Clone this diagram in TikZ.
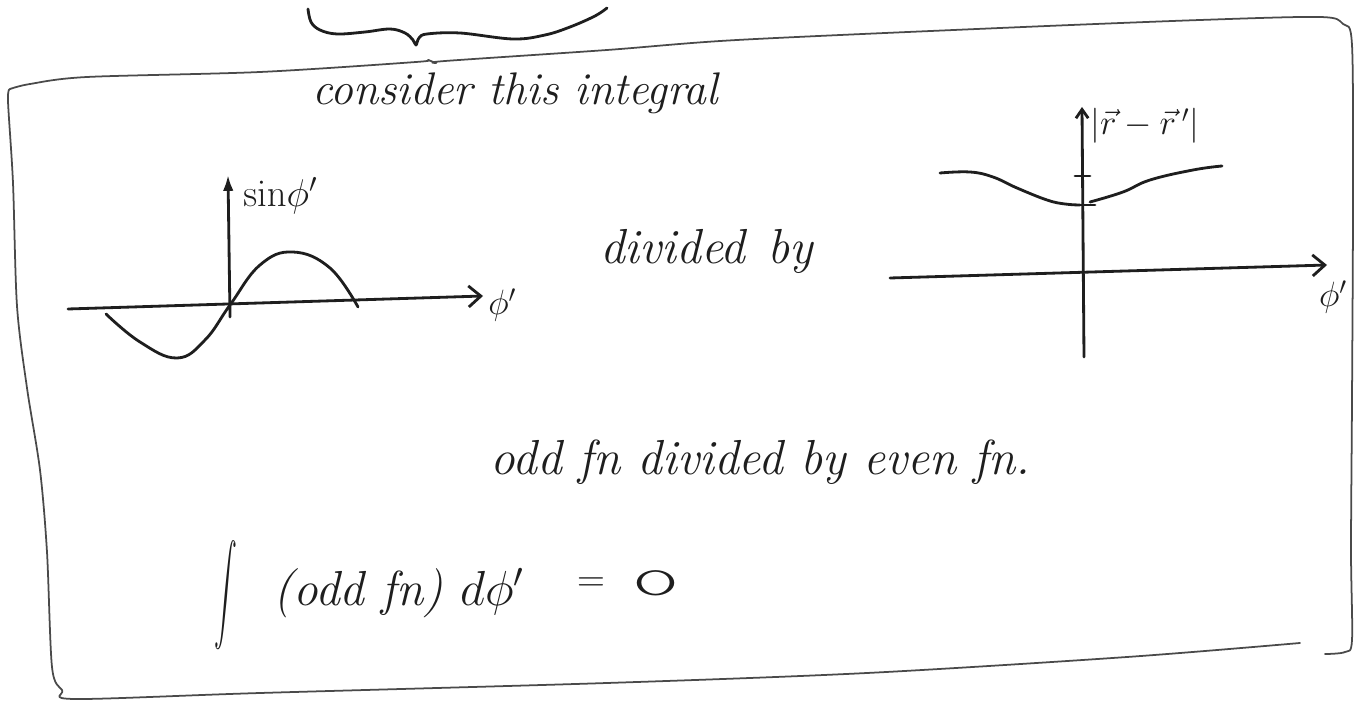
\RequirePackage{fix-cm}
\documentclass[tikz,border=0pt]{standalone}
\usetikzlibrary{arrows.meta}
\definecolor{ink}{HTML}{1E1E1E}
\definecolor{boxink}{HTML}{4A4A4A}
\tikzset{
  hand/.style={draw=ink, line width=1.6pt, line cap=round, line join=round},
  frame/.style={draw=boxink, line width=1.0pt, line cap=round, line join=round},
  script/.style={text=ink, font=\fontsize{28}{32}\selectfont\itshape, inner sep=0pt},
  mathlab/.style={text=ink, font=\fontsize{20}{24}\selectfont, inner sep=0pt},
  axisarrow/.style={hand, -{Straight Barb[length=7pt,width=12pt]}},
}
\begin{document}
\begin{tikzpicture}[x=0.02cm,y=-0.02cm]
\useasboundingbox (0,0) rectangle (1360,702);
\fill[white] (0,0) rectangle (1360,702);

% top brace
\draw[hand] plot[smooth, tension=0.6] coordinates {(308,9) (311,22) (320,30) (337,34) (365,32) (390,29) (405,33) (413,40) (416,45) (419,38) (427,34) (460,33) (513,39) (545,35) (570,27) (595,16) (607,8)};

% hand drawn frame
\draw[frame] plot[smooth, tension=0.5] coordinates {(10,89) (30,84) (87,77) (260,72) (416,62) (428,60) (436,63) (445,61) (607,50) (737,40) (1000,28) (1200,20) (1320,17) (1343,24) (1352,45) (1353,200) (1352,400) (1351,550) (1352,640) (1345,652) (1325,654)};
\draw[frame] plot[smooth, tension=0.5] coordinates {(1300,643) (1127,657) (867,673) (607,683) (260,693) (75,699) (62,690) (52,667) (47,552) (40,470) (27,388) (17,306) (13,183) (8,101) (10,89)};

% texts
\node[script, font=\fontsize{26}{30}\selectfont\itshape, anchor=base west] (consider) at (312,105) {consider this integral};
\node[script, anchor=base west] (divby) at (600,264) {divided\hspace{0.45em}by};
\node[script, anchor=base west] (oddeven) at (490,475) {odd fn divided by even fn.};

% left graph
\coordinate (Lx0) at (68,309);
\coordinate (Lx1) at (483,296);
\coordinate (Ly0) at (230,317);
\coordinate (Ly1) at (228,175);
\draw[axisarrow] (Lx0) -- (Lx1);
\draw[hand, -{Latex[length=9pt,width=6pt]}] (Ly0) -- (Ly1);
\node[mathlab, font=\fontsize{22}{26}\selectfont, anchor=base west] (sinlab) at (243,207) {$\mathrm{sin}\phi'$};
\node[mathlab, anchor=west] (phiL) at (488,305) {$\phi'$};
\draw[hand] plot[smooth, tension=0.7] coordinates {(106,314) (140,342) (177,358) (205,340) (230,305) (260,265) (293,252) (330,268) (358,307)};

% right graph
\coordinate (Rx0) at (890,278);
\coordinate (Rx1) at (1327,265);
\coordinate (Ry0) at (1084,357);
\coordinate (Ry1) at (1082,107);
\draw[axisarrow] (Rx0) -- (Rx1);
\draw[hand, -{Straight Barb[length=5pt,width=7pt]}] (Ry0) -- (Ry1);
\draw[hand] (1075,176) -- (1090,176);
\draw[hand] (1075,205) -- (1095,205);
\draw[hand] plot[smooth, tension=0.7] coordinates {(940,173) (970,172) (993,177) (1017,188) (1047,200) (1065,204) (1080,205)};
\draw[hand] plot[smooth, tension=0.7] coordinates {(1090,202) (1123,192) (1150,180) (1193,170) (1222,166)};
\node[mathlab, anchor=west] (dist) at (1090,126) {$|\vec r-\vec r\,'|$};
\node[mathlab] (phiR) at (1333,297) {$\phi'$};

% integral
\node[inner sep=0pt, text=ink] (intsign) at (226,595) {\scalebox{1.3}[2.8]{$\displaystyle\int$}};
\node[script, anchor=base west] (oddfn) at (273,605) {(odd fn)};
\node[script, anchor=base west] (dphi) at (460,605) {$d\phi'$};
\node[text=ink, inner sep=0pt, font=\fontsize{22}{26}\selectfont] (eq) at (591,585) {$=$};
\node[text=ink, inner sep=0pt] (zero) at (656,583) {\scalebox{1.7}[0.76]{\fontsize{30}{34}\fontseries{l}\ttfamily\selectfont 0}};
\end{tikzpicture}
\end{document}
